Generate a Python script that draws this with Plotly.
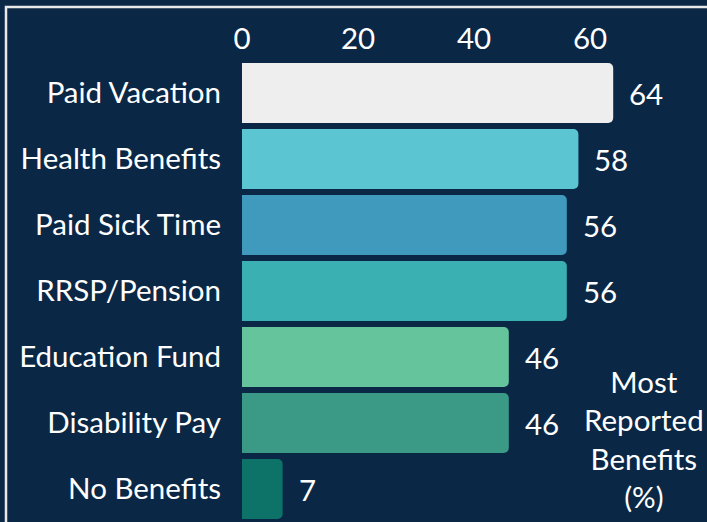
import plotly.graph_objects as go

categories = ["Paid Vacation", "Health Benefits", "Paid Sick Time", "RRSP/Pension",
              "Education Fund", "Disability Pay", "No Benefits"]
values = [64, 58, 56, 56, 46, 46, 7]
colors = ["#EEEEEE", "#5BC5D2", "#409ABE", "#3AB0B2", "#66C49C", "#3A9A86", "#0D7268"]
tick_vals = [0, 20, 40, 60]

BG = "#0A2846"
FONT = "Lato"
FS = 29.5
W, H = 707, 522
L, T = 242, 60
plot_w = W - L
plot_h = H - T
px_per_unit = 5.8
xmax = plot_w / px_per_unit

fig = go.Figure()
fig.add_trace(go.Bar(
    x=values, y=categories, orientation="h",
    marker=dict(color=colors, line=dict(width=0), cornerradius=5),
    hoverinfo="skip",
))

for c, v in zip(categories, values):
    fig.add_annotation(x=v, y=c, text=str(v), showarrow=False, xanchor="left",
                       xshift=14, font=dict(family=FONT, size=FS, color="white"))

fig.add_annotation(xref="paper", yref="paper", x=(644 - L) / plot_w, y=(H - 439) / plot_h,
                   text="Most<br>Reported<br>Benefits<br>(%)", showarrow=False,
                   xanchor="center", yanchor="middle", align="center",
                   font=dict(family=FONT, size=FS, color="white"))

# outer frame
fig.add_shape(type="rect", xref="paper", yref="paper",
              x0=(6 - L) / plot_w, x1=1.2, y0=-0.2, y1=(H - 7) / plot_h,
              line=dict(color="#E8E8E8", width=2.5), layer="above")

fig.update_layout(
    width=W, height=H,
    margin=dict(l=L, r=0, t=T, b=0, autoexpand=False),
    paper_bgcolor=BG, plot_bgcolor=BG,
    bargap=0.09,
    showlegend=False,
    font=dict(family=FONT, size=FS, color="white"),
    xaxis=dict(side="top", range=[0, xmax], tickvals=tick_vals, showgrid=False,
               zeroline=False, showline=False, ticks="", ticklabelstandoff=4,
               tickfont=dict(family=FONT, size=FS, color="white"), fixedrange=True),
    yaxis=dict(autorange="reversed", showgrid=False, zeroline=False, showline=False,
               ticks="", ticklabelstandoff=20,
               tickfont=dict(family=FONT, size=FS, color="white"), fixedrange=True),
)

fig.write_html("out.html")
